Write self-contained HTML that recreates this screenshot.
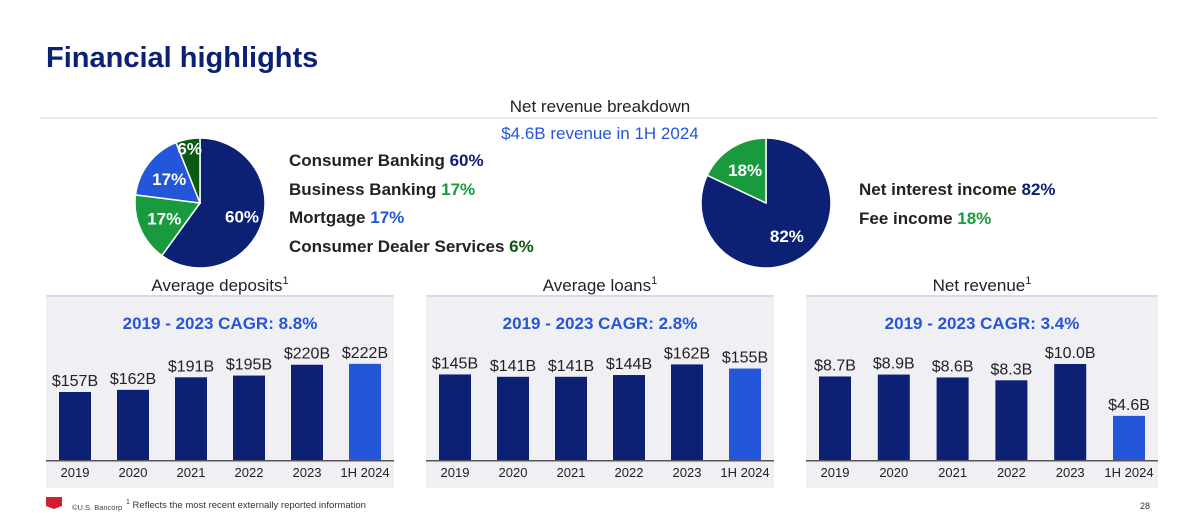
<!DOCTYPE html>
<html><head><meta charset="utf-8"><style>
body{margin:0;width:1200px;height:524px;background:#fff;font-family:"Liberation Sans",sans-serif;overflow:hidden;position:relative}
.a{position:absolute;white-space:nowrap}
</style></head><body>
<div class="a" style="left:46px;top:42px;font-size:29px;font-weight:bold;color:#0c2074">Financial highlights</div>
<div class="a" style="left:0;width:1200px;text-align:center;top:97px;font-size:17px;color:#222">Net revenue breakdown</div>
<div class="a" style="left:40px;top:117px;width:1118px;height:2px;background:#e8eaef"></div>
<div class="a" style="left:0;width:1200px;text-align:center;top:124px;font-size:17px;color:#2456d9">$4.6B revenue in 1H 2024</div>
<div class="a" style="left:289px;top:147px;font-size:17px;font-weight:bold;color:#222;line-height:28.5px">
<div>Consumer Banking <span style="color:#0c2074">60%</span></div>
<div>Business Banking <span style="color:#1a9a3f">17%</span></div>
<div>Mortgage <span style="color:#2456d9">17%</span></div>
<div>Consumer Dealer Services <span style="color:#0a5a12">6%</span></div>
</div>
<div class="a" style="left:859px;top:176px;font-size:17px;font-weight:bold;color:#222;line-height:28.5px">
<div>Net interest income <span style="color:#0c2074">82%</span></div>
<div>Fee income <span style="color:#1a9a3f">18%</span></div>
</div>
<div class="a" style="left:126px;top:499px;font-size:9.5px;color:#333"><sup style="font-size:7px">1</sup> Reflects the most recent externally reported information</div>
<div class="a" style="left:72px;top:503px;font-size:7.5px;color:#444">©U.S. Bancorp</div>
<div class="a" style="left:46px;top:497px;width:16px;height:12px;background:#d0202e;clip-path:polygon(0 0,100% 0,100% 75%,50% 100%,0 75%)"></div>
<div class="a" style="left:1140px;top:501px;font-size:9px;color:#333">28</div>
<svg id="s" width="1200" height="524" style="position:absolute;left:0;top:0"></svg>
<script>
const segLabels=["Consumer Banking","Business Banking","Mortgage","Consumer Dealer Services"];
const segValues=[60,17,17,6];
const segColors=["#0c2074","#1a9a3f","#2456d9","#0a5a12"];
const incLabels=["Net interest income","Fee income"];
const incValues=[82,18];
const incColors=["#0c2074","#1a9a3f"];
const years=["2019","2020","2021","2022","2023","1H 2024"];
const depositVals=[157,162,191,195,220,222];
const depositText=["$157B","$162B","$191B","$195B","$220B","$222B"];
const loanVals=[145,141,141,144,162,155];
const loanText=["$145B","$141B","$141B","$144B","$162B","$155B"];
const revVals=[8.7,8.9,8.6,8.3,10.0,4.6];
const revText=["$8.7B","$8.9B","$8.6B","$8.3B","$10.0B","$4.6B"];
const panels=[
 {title:"Average deposits",cagr:"2019 - 2023 CAGR: 8.8%",vals:depositVals,txt:depositText,x0:46,w:348,scale:0.433,name:"deposits"},
 {title:"Average loans",cagr:"2019 - 2023 CAGR: 2.8%",vals:loanVals,txt:loanText,x0:426,w:348,scale:0.59,name:"loans"},
 {title:"Net revenue",cagr:"2019 - 2023 CAGR: 3.4%",vals:revVals,txt:revText,x0:806,w:352,scale:9.6,name:"revenue"}];
const NS="http://www.w3.org/2000/svg",s=document.getElementById('s');
function mk(t,a,p){const e=document.createElementNS(NS,t);for(const k in a)e.setAttribute(k,a[k]);(p||s).appendChild(e);return e;}
function pie(cx,cy,r,vals,cols,name,labelR){
 const tot=vals.reduce((a,b)=>a+b,0);let a0=0;
 vals.forEach((v,i)=>{const a1=a0+v/tot*2*Math.PI;
  const p=(a)=>[cx+r*Math.sin(a),cy-r*Math.cos(a)];
  const [x0,y0]=p(a0),[x1,y1]=p(a1);
  const e=mk('path',{d:`M${cx},${cy}L${x0},${y0}A${r},${r} 0 ${a1-a0>Math.PI?1:0} 1 ${x1},${y1}Z`,fill:cols[i],stroke:'#fff','stroke-width':1.5});
  
  
  const am=(a0+a1)/2,lr=v<10?0.85:(v>50?labelR:0.6);
  const t=mk('text',{x:cx+r*lr*Math.sin(am),y:cy-r*lr*Math.cos(am)+6,'text-anchor':'middle','font-size':17,'font-weight':'bold',fill:'#fff'});
  t.textContent=v+'%';
  
  
  a0=a1;});
}
pie(200,203,65,segValues,segColors,'segment-pie',0.68);
pie(766,203,65,incValues,incColors,'income-pie',0.6);
panels.forEach(P=>{
 const g=mk('g',{});
 
 
 const tt=mk('text',{x:P.x0+P.w/2,y:291,'text-anchor':'middle','font-size':17,fill:'#222'},g);
 tt.innerHTML=P.title+'<tspan font-size="11" dy="-7">1</tspan>';
 
 
 mk('rect',{x:P.x0,y:295,width:P.w,height:2,fill:'#d8dae2'},g);
 mk('rect',{x:P.x0,y:297,width:P.w,height:191,fill:'#efeff4'},g);
 const c=mk('text',{x:P.x0+P.w/2,y:329,'text-anchor':'middle','font-size':17,'font-weight':'bold',fill:'#2456d9'},g);
 c.textContent=P.cagr;
 
 
 const base=460,step=(P.w-58)/5;
 P.vals.forEach((v,i)=>{const cx=P.x0+29+step*i,h=v*P.scale;
  const b=mk('rect',{x:cx-16,y:base-h,width:32,height:h,fill:i==5?'#2456d9':'#0c2074'},g);
  
  
  const l=mk('text',{x:cx,y:base-h-6,'text-anchor':'middle','font-size':16,fill:'#222'},g);
  l.textContent=P.txt[i];
  
  
  const y=mk('text',{x:cx,y:477,'text-anchor':'middle','font-size':13,fill:'#222'},g);
  y.textContent=years[i];
  
  });
 mk('rect',{x:P.x0,y:base,width:P.w,height:1.5,fill:'#555'},g);
});
</script>
</body></html>
